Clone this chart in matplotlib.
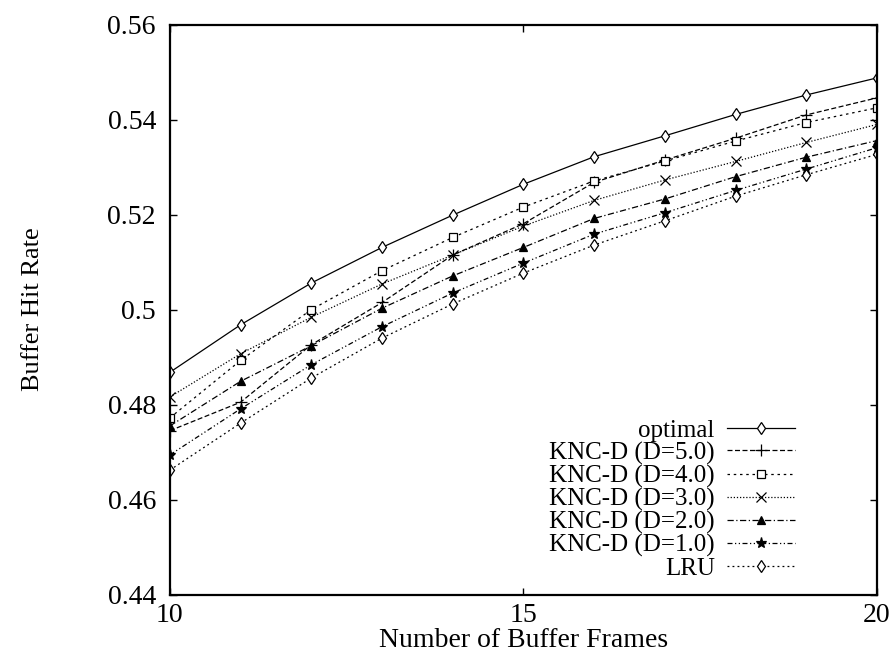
import numpy as np
import matplotlib
matplotlib.use("Agg")
import matplotlib.pyplot as plt
from matplotlib.ticker import FuncFormatter

plt.rcParams["font.family"] = ["Liberation Serif", "DejaVu Serif"]

frames = [10, 11, 12, 13, 14, 15, 16, 17, 18, 19, 20]

optimal = [0.4868, 0.4968, 0.5056, 0.5131, 0.5199, 0.5264, 0.5322, 0.5366, 0.5411, 0.5452, 0.5488]
knc_d5 = [0.4745, 0.4805, 0.4926, 0.5015, 0.5115, 0.5181, 0.5268, 0.5315, 0.5361, 0.5410, 0.5446]
knc_d4 = [0.4772, 0.4893, 0.5000, 0.5082, 0.5152, 0.5216, 0.5271, 0.5313, 0.5355, 0.5394, 0.5425]
knc_d3 = [0.4816, 0.4907, 0.4984, 0.5054, 0.5115, 0.5176, 0.5230, 0.5273, 0.5312, 0.5352, 0.5390]
knc_d2 = [0.4755, 0.4849, 0.4924, 0.5003, 0.5071, 0.5131, 0.5192, 0.5233, 0.5280, 0.5321, 0.5356]
knc_d1 = [0.4694, 0.4791, 0.4884, 0.4964, 0.5035, 0.5098, 0.5159, 0.5204, 0.5251, 0.5296, 0.5341]
lru = [0.4662, 0.4761, 0.4856, 0.4940, 0.5012, 0.5077, 0.5136, 0.5187, 0.5239, 0.5284, 0.5327]

labels = ["optimal", "KNC-D (D=5.0)", "KNC-D (D=4.0)", "KNC-D (D=3.0)",
          "KNC-D (D=2.0)", "KNC-D (D=1.0)", "LRU"]

fig = plt.figure(figsize=(8.94, 6.68), dpi=100)
ax = fig.add_axes([0.190, 0.110, 0.791, 0.853])

k = dict(color="black", lw=0.9, mew=0.9)
ax.plot(frames, optimal, linestyle="-", marker="d", ms=6, mfc="white", label=labels[0], **k)
ax.plot(frames, knc_d5, linestyle=(0, (4, 2)), marker="+", ms=8, label=labels[1], **k)
ax.plot(frames, knc_d4, linestyle=(0, (2, 3)), marker="s", ms=6, mfc="white", label=labels[2], **k)
ax.plot(frames, knc_d3, linestyle=(0, (1, 1.5)), marker="x", ms=7, label=labels[3], **k)
ax.plot(frames, knc_d2, linestyle=(0, (5, 2, 1, 2)), marker="^", ms=6, label=labels[4], **k)
ax.plot(frames, knc_d1, linestyle=(0, (4, 2, 1, 2, 1, 2)), marker="*", ms=8, label=labels[5], **k)
ax.plot(frames, lru, linestyle=(0, (1.5, 2.5)), marker="d", ms=6, mfc="white", label=labels[6], **k)

ax.set_xlim(10, 20)
ax.set_ylim(0.44, 0.56)
ax.set_xticks([10, 15, 20])
ax.set_yticks(np.arange(0.44, 0.5601, 0.02))
ax.yaxis.set_major_formatter(FuncFormatter(lambda v, p: "%g" % round(v, 2)))
ax.tick_params(direction="in", length=5, width=1, top=True, right=True, labelsize=20, pad=6)
ax.tick_params(axis="y", pad=10)
for s in ax.spines.values():
    s.set_linewidth(1.6)

ax.set_xlabel("Number of Buffer Frames", fontsize=20, labelpad=0)
ax.set_ylabel("Buffer Hit Rate", fontsize=19, labelpad=46)

leg = ax.legend(loc="lower right", bbox_to_anchor=(0.905, 0.0), frameon=False,
                markerfirst=False, fontsize=18, handlelength=2.7, handletextpad=0.5,
                labelspacing=0.0, borderaxespad=0.2)
for t in leg.get_texts():
    t.set_ha("right")

fig.savefig("out.png", dpi=100)
plt.close()
